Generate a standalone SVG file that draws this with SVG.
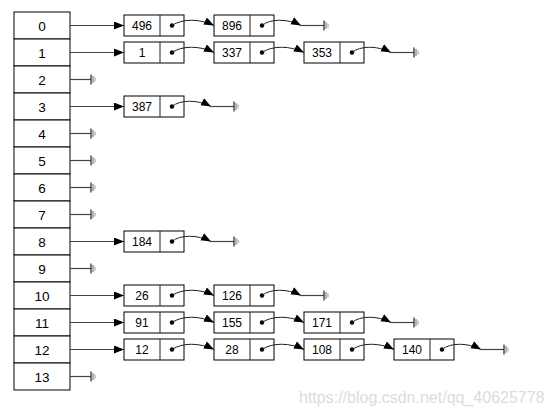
<svg xmlns="http://www.w3.org/2000/svg" xmlns:xlink="http://www.w3.org/1999/xlink" width="551" height="418" viewBox="0 0 551 418">
<style>
.cell{fill:#fff;stroke:#000;stroke-width:1}
.box{fill:#fff;stroke:#000;stroke-width:1}
.idx{font-family:"Liberation Sans",Arial,sans-serif;font-size:13.5px;fill:#000;text-anchor:middle}
.val{font-family:"Liberation Sans",Arial,sans-serif;font-size:12px;fill:#000;text-anchor:middle}
.ln{fill:none;stroke:#444;stroke-width:1.2}
.cv{fill:none;stroke:#222;stroke-width:1}
.dot{fill:#000}
.wm{font-family:"Liberation Sans",Arial,sans-serif;font-size:16px;fill:#dcdcdc}
</style>
<defs>
<marker id="arr" markerUnits="userSpaceOnUse" markerWidth="12" markerHeight="9" refX="10" refY="4" orient="auto">
<path d="M0,0 L10,4 L0,8 z" fill="#000"/>
</marker>
<g id="gnd">
<path d="M0,-5 V5" stroke="#222" stroke-width="1.2"/>
<path d="M2,-3.5 V3.5" stroke="#666" stroke-width="1"/>
<path d="M4,-2 V2" stroke="#999" stroke-width="1"/>
</g>
</defs>
<rect width="551" height="418" fill="#fff"/>

<g id="table">
<g id="t0"><rect class="cell" x="14" y="12" width="56" height="27"/><text class="idx" x="42" y="30.5">0</text></g>
<g id="t1"><rect class="cell" x="14" y="39" width="56" height="27"/><text class="idx" x="42" y="57.5">1</text></g>
<g id="t2"><rect class="cell" x="14" y="66" width="56" height="27"/><text class="idx" x="42" y="84.5">2</text></g>
<g id="t3"><rect class="cell" x="14" y="93" width="56" height="27"/><text class="idx" x="42" y="111.5">3</text></g>
<g id="t4"><rect class="cell" x="14" y="120" width="56" height="27"/><text class="idx" x="42" y="138.5">4</text></g>
<g id="t5"><rect class="cell" x="14" y="147" width="56" height="27"/><text class="idx" x="42" y="165.5">5</text></g>
<g id="t6"><rect class="cell" x="14" y="174" width="56" height="27"/><text class="idx" x="42" y="192.5">6</text></g>
<g id="t7"><rect class="cell" x="14" y="201" width="56" height="27"/><text class="idx" x="42" y="219.5">7</text></g>
<g id="t8"><rect class="cell" x="14" y="228" width="56" height="27"/><text class="idx" x="42" y="246.5">8</text></g>
<g id="t9"><rect class="cell" x="14" y="255" width="56" height="27"/><text class="idx" x="42" y="273.5">9</text></g>
<g id="t10"><rect class="cell" x="14" y="282" width="56" height="27"/><text class="idx" x="42" y="300.5">10</text></g>
<g id="t11"><rect class="cell" x="14" y="309" width="56" height="27"/><text class="idx" x="42" y="327.5">11</text></g>
<g id="t12"><rect class="cell" x="14" y="336" width="56" height="27"/><text class="idx" x="42" y="354.5">12</text></g>
<g id="t13"><rect class="cell" x="14" y="363" width="56" height="27"/><text class="idx" x="42" y="381.5">13</text></g>
</g>

<g id="nodes">
<g id="n0a"><rect class="box" x="124" y="15" width="60" height="21"/><path class="cv" d="M160,15 V36"/><text class="val" x="142" y="30">496</text><circle class="dot" cx="172" cy="25.5" r="2.2"/></g>
<g id="n0b"><rect class="box" x="214" y="15" width="60" height="21"/><path class="cv" d="M250,15 V36"/><text class="val" x="232" y="30">896</text><circle class="dot" cx="262" cy="25.5" r="2.2"/></g>

<g id="n1a"><rect class="box" x="124" y="42" width="60" height="21"/><path class="cv" d="M160,42 V63"/><text class="val" x="142" y="57">1</text><circle class="dot" cx="172" cy="52.5" r="2.2"/></g>
<g id="n1b"><rect class="box" x="214" y="42" width="60" height="21"/><path class="cv" d="M250,42 V63"/><text class="val" x="232" y="57">337</text><circle class="dot" cx="262" cy="52.5" r="2.2"/></g>
<g id="n1c"><rect class="box" x="304" y="42" width="60" height="21"/><path class="cv" d="M340,42 V63"/><text class="val" x="322" y="57">353</text><circle class="dot" cx="352" cy="52.5" r="2.2"/></g>

<g id="n3a"><rect class="box" x="124" y="96" width="60" height="21"/><path class="cv" d="M160,96 V117"/><text class="val" x="142" y="111">387</text><circle class="dot" cx="172" cy="106.5" r="2.2"/></g>

<g id="n8a"><rect class="box" x="124" y="231" width="60" height="21"/><path class="cv" d="M160,231 V252"/><text class="val" x="142" y="246">184</text><circle class="dot" cx="172" cy="241.5" r="2.2"/></g>

<g id="n10a"><rect class="box" x="124" y="285" width="60" height="21"/><path class="cv" d="M160,285 V306"/><text class="val" x="142" y="300">26</text><circle class="dot" cx="172" cy="295.5" r="2.2"/></g>
<g id="n10b"><rect class="box" x="214" y="285" width="60" height="21"/><path class="cv" d="M250,285 V306"/><text class="val" x="232" y="300">126</text><circle class="dot" cx="262" cy="295.5" r="2.2"/></g>

<g id="n11a"><rect class="box" x="124" y="312" width="60" height="21"/><path class="cv" d="M160,312 V333"/><text class="val" x="142" y="327">91</text><circle class="dot" cx="172" cy="322.5" r="2.2"/></g>
<g id="n11b"><rect class="box" x="214" y="312" width="60" height="21"/><path class="cv" d="M250,312 V333"/><text class="val" x="232" y="327">155</text><circle class="dot" cx="262" cy="322.5" r="2.2"/></g>
<g id="n11c"><rect class="box" x="304" y="312" width="60" height="21"/><path class="cv" d="M340,312 V333"/><text class="val" x="322" y="327">171</text><circle class="dot" cx="352" cy="322.5" r="2.2"/></g>

<g id="n12a"><rect class="box" x="124" y="339" width="60" height="21"/><path class="cv" d="M160,339 V360"/><text class="val" x="142" y="354">12</text><circle class="dot" cx="172" cy="349.5" r="2.2"/></g>
<g id="n12b"><rect class="box" x="214" y="339" width="60" height="21"/><path class="cv" d="M250,339 V360"/><text class="val" x="232" y="354">28</text><circle class="dot" cx="262" cy="349.5" r="2.2"/></g>
<g id="n12c"><rect class="box" x="304" y="339" width="60" height="21"/><path class="cv" d="M340,339 V360"/><text class="val" x="322" y="354">108</text><circle class="dot" cx="352" cy="349.5" r="2.2"/></g>
<g id="n12d"><rect class="box" x="394" y="339" width="60" height="21"/><path class="cv" d="M430,339 V360"/><text class="val" x="412" y="354">140</text><circle class="dot" cx="442" cy="349.5" r="2.2"/></g>
</g>

<g id="connectors">
<path class="ln" d="M70,25.5 H124" marker-end="url(#arr)"/>
<path class="ln" d="M70,52.5 H124" marker-end="url(#arr)"/>
<path class="ln" d="M70,106.5 H124" marker-end="url(#arr)"/>
<path class="ln" d="M70,241.5 H124" marker-end="url(#arr)"/>
<path class="ln" d="M70,295.5 H124" marker-end="url(#arr)"/>
<path class="ln" d="M70,322.5 H124" marker-end="url(#arr)"/>
<path class="ln" d="M70,349.5 H124" marker-end="url(#arr)"/>
<path class="ln" d="M70,79.5 H91"/><use href="#gnd" x="91" y="79.5"/>
<path class="ln" d="M70,133.5 H91"/><use href="#gnd" x="91" y="133.5"/>
<path class="ln" d="M70,160.5 H91"/><use href="#gnd" x="91" y="160.5"/>
<path class="ln" d="M70,187.5 H91"/><use href="#gnd" x="91" y="187.5"/>
<path class="ln" d="M70,214.5 H91"/><use href="#gnd" x="91" y="214.5"/>
<path class="ln" d="M70,268.5 H91"/><use href="#gnd" x="91" y="268.5"/>
<path class="ln" d="M70,376.5 H91"/><use href="#gnd" x="91" y="376.5"/>
<path class="cv" d="M172,25.5 C182,18.5 200,18.5 214,25.5" marker-end="url(#arr)"/>
<path class="cv" d="M172,52.5 C182,45.5 200,45.5 214,52.5" marker-end="url(#arr)"/>
<path class="cv" d="M262,52.5 C272,45.5 290,45.5 304,52.5" marker-end="url(#arr)"/>
<path class="cv" d="M172,295.5 C182,288.5 200,288.5 214,295.5" marker-end="url(#arr)"/>
<path class="cv" d="M172,322.5 C182,315.5 200,315.5 214,322.5" marker-end="url(#arr)"/>
<path class="cv" d="M262,322.5 C272,315.5 290,315.5 304,322.5" marker-end="url(#arr)"/>
<path class="cv" d="M172,349.5 C182,342.5 200,342.5 214,349.5" marker-end="url(#arr)"/>
<path class="cv" d="M262,349.5 C272,342.5 290,342.5 304,349.5" marker-end="url(#arr)"/>
<path class="cv" d="M352,349.5 C362,342.5 380,342.5 394,349.5" marker-end="url(#arr)"/>
<path class="cv" d="M262,25.5 C270,18.5 288,18.5 301,25.5" marker-end="url(#arr)"/><path class="ln" d="M300,25.5 H324"/><use href="#gnd" x="324" y="25.5"/>
<path class="cv" d="M352,52.5 C360,45.5 378,45.5 391,52.5" marker-end="url(#arr)"/><path class="ln" d="M390,52.5 H414"/><use href="#gnd" x="414" y="52.5"/>
<path class="cv" d="M172,106.5 C180,99.5 198,99.5 211,106.5" marker-end="url(#arr)"/><path class="ln" d="M210,106.5 H234"/><use href="#gnd" x="234" y="106.5"/>
<path class="cv" d="M172,241.5 C180,234.5 198,234.5 211,241.5" marker-end="url(#arr)"/><path class="ln" d="M210,241.5 H234"/><use href="#gnd" x="234" y="241.5"/>
<path class="cv" d="M262,295.5 C270,288.5 288,288.5 301,295.5" marker-end="url(#arr)"/><path class="ln" d="M300,295.5 H324"/><use href="#gnd" x="324" y="295.5"/>
<path class="cv" d="M352,322.5 C360,315.5 378,315.5 391,322.5" marker-end="url(#arr)"/><path class="ln" d="M390,322.5 H414"/><use href="#gnd" x="414" y="322.5"/>
<path class="cv" d="M442,349.5 C450,342.5 468,342.5 481,349.5" marker-end="url(#arr)"/><path class="ln" d="M480,349.5 H504"/><use href="#gnd" x="504" y="349.5"/>
</g>

<text class="wm" x="299" y="403">https://blog.csdn.net/qq_40625778</text>
</svg>
